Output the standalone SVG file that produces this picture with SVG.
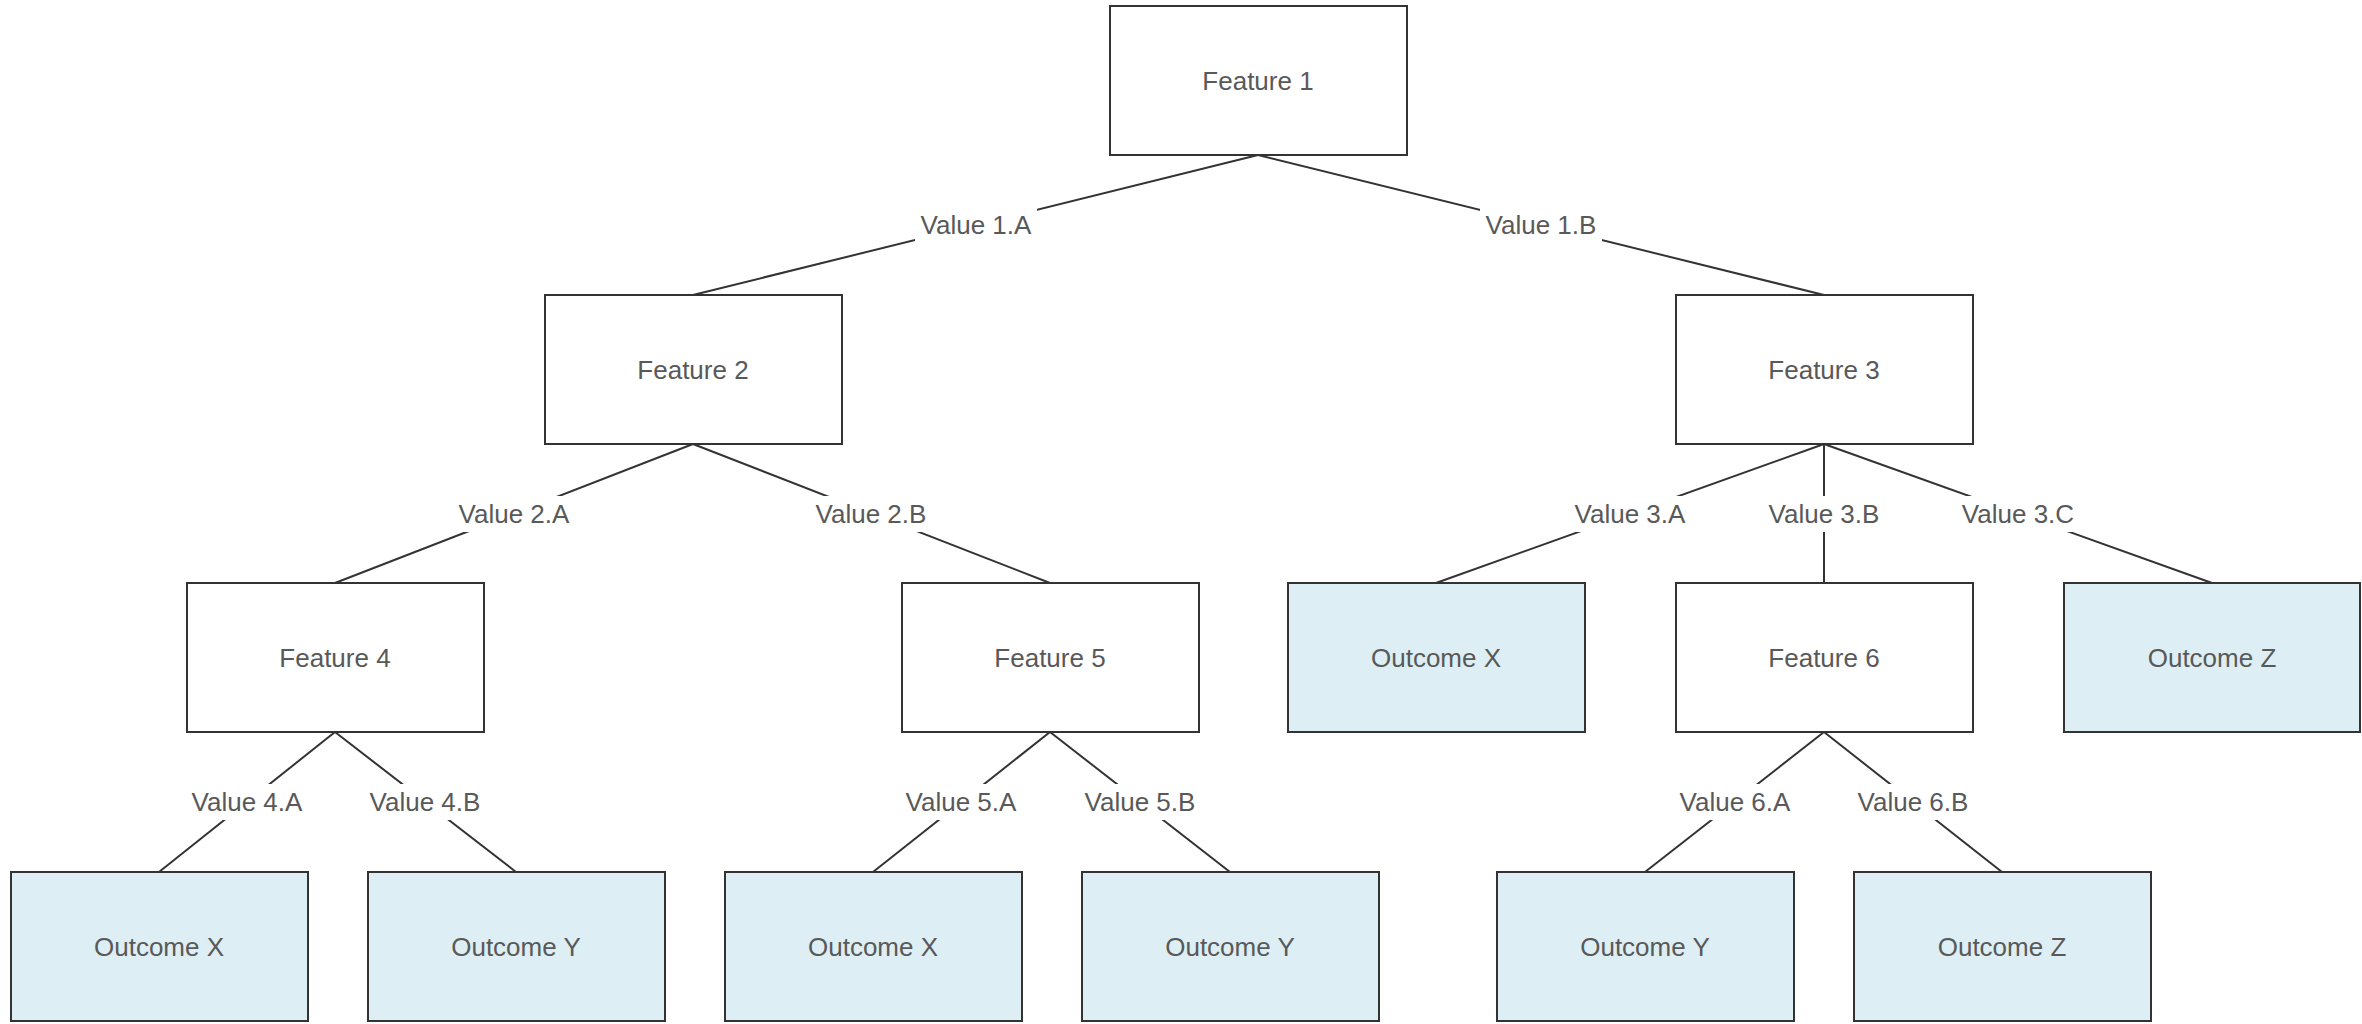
<svg xmlns="http://www.w3.org/2000/svg" width="2362" height="1024" viewBox="0 0 2362 1024">
  <style>
    .node rect { stroke: #333333; stroke-width: 2; }
    .feature rect { fill: #ffffff; }
    .outcome rect { fill: #ddeff4; }
    text { font-family: "Liberation Sans", Arial, sans-serif; font-size: 26px; fill: #595959; text-anchor: middle; dominant-baseline: central; }
    .edge line { stroke: #333333; stroke-width: 2; }
    .lbl rect { fill: #ffffff; }
  </style>
  <rect width="2362" height="1024" fill="#ffffff"/>

  <!-- connectors: parent bottom-centre to child top-centre, label at midpoint -->
  <g id="connectors">
    <g class="edge" id="e-f1-f2"><line x1="1258" y1="155" x2="693" y2="295"/><g class="lbl"><rect x="915" y="207" width="122" height="36"/><text x="976" y="225">Value 1.A</text></g></g>
    <g class="edge" id="e-f1-f3"><line x1="1258" y1="155" x2="1824" y2="295"/><g class="lbl"><rect x="1480" y="207" width="122" height="36"/><text x="1541" y="225">Value 1.B</text></g></g>

    <g class="edge" id="e-f2-f4"><line x1="693" y1="444" x2="335" y2="583"/><g class="lbl"><rect x="453" y="496" width="122" height="36"/><text x="514" y="514">Value 2.A</text></g></g>
    <g class="edge" id="e-f2-f5"><line x1="693" y1="444" x2="1050" y2="583"/><g class="lbl"><rect x="810" y="496" width="122" height="36"/><text x="871" y="514">Value 2.B</text></g></g>

    <g class="edge" id="e-f3-ox"><line x1="1824" y1="444" x2="1436" y2="583"/><g class="lbl"><rect x="1569" y="496" width="122" height="36"/><text x="1630" y="514">Value 3.A</text></g></g>
    <g class="edge" id="e-f3-f6"><line x1="1824" y1="444" x2="1824" y2="583"/><g class="lbl"><rect x="1763" y="496" width="122" height="36"/><text x="1824" y="514">Value 3.B</text></g></g>
    <g class="edge" id="e-f3-oz"><line x1="1824" y1="444" x2="2212" y2="583"/><g class="lbl"><rect x="1957" y="496" width="122" height="36"/><text x="2018" y="514">Value 3.C</text></g></g>

    <g class="edge" id="e-f4-ox"><line x1="335" y1="732" x2="159" y2="872"/><g class="lbl"><rect x="186" y="784" width="122" height="36"/><text x="247" y="802">Value 4.A</text></g></g>
    <g class="edge" id="e-f4-oy"><line x1="335" y1="732" x2="516" y2="872"/><g class="lbl"><rect x="364" y="784" width="122" height="36"/><text x="425" y="802">Value 4.B</text></g></g>

    <g class="edge" id="e-f5-ox"><line x1="1050" y1="732" x2="873" y2="872"/><g class="lbl"><rect x="900" y="784" width="122" height="36"/><text x="961" y="802">Value 5.A</text></g></g>
    <g class="edge" id="e-f5-oy"><line x1="1050" y1="732" x2="1230" y2="872"/><g class="lbl"><rect x="1079" y="784" width="122" height="36"/><text x="1140" y="802">Value 5.B</text></g></g>

    <g class="edge" id="e-f6-oy"><line x1="1824" y1="732" x2="1645" y2="872"/><g class="lbl"><rect x="1674" y="784" width="122" height="36"/><text x="1735" y="802">Value 6.A</text></g></g>
    <g class="edge" id="e-f6-oz"><line x1="1824" y1="732" x2="2002" y2="872"/><g class="lbl"><rect x="1852" y="784" width="122" height="36"/><text x="1913" y="802">Value 6.B</text></g></g>
  </g>

  <!-- decision nodes -->
  <g id="feature-1" class="node feature"><rect x="1110" y="6" width="297" height="149"/><text x="1258" y="81">Feature 1</text></g>
  <g id="feature-2" class="node feature"><rect x="545" y="295" width="297" height="149"/><text x="693" y="370">Feature 2</text></g>
  <g id="feature-3" class="node feature"><rect x="1676" y="295" width="297" height="149"/><text x="1824" y="370">Feature 3</text></g>
  <g id="feature-4" class="node feature"><rect x="187" y="583" width="297" height="149"/><text x="335" y="658">Feature 4</text></g>
  <g id="feature-5" class="node feature"><rect x="902" y="583" width="297" height="149"/><text x="1050" y="658">Feature 5</text></g>
  <g id="feature-6" class="node feature"><rect x="1676" y="583" width="297" height="149"/><text x="1824" y="658">Feature 6</text></g>

  <!-- leaf outcomes -->
  <g id="outcome-3a" class="node outcome"><rect x="1288" y="583" width="297" height="149"/><text x="1436" y="658">Outcome X</text></g>
  <g id="outcome-3c" class="node outcome"><rect x="2064" y="583" width="296" height="149"/><text x="2212" y="658">Outcome Z</text></g>
  <g id="outcome-4a" class="node outcome"><rect x="11" y="872" width="297" height="149"/><text x="159" y="947">Outcome X</text></g>
  <g id="outcome-4b" class="node outcome"><rect x="368" y="872" width="297" height="149"/><text x="516" y="947">Outcome Y</text></g>
  <g id="outcome-5a" class="node outcome"><rect x="725" y="872" width="297" height="149"/><text x="873" y="947">Outcome X</text></g>
  <g id="outcome-5b" class="node outcome"><rect x="1082" y="872" width="297" height="149"/><text x="1230" y="947">Outcome Y</text></g>
  <g id="outcome-6a" class="node outcome"><rect x="1497" y="872" width="297" height="149"/><text x="1645" y="947">Outcome Y</text></g>
  <g id="outcome-6b" class="node outcome"><rect x="1854" y="872" width="297" height="149"/><text x="2002" y="947">Outcome Z</text></g>
</svg>
